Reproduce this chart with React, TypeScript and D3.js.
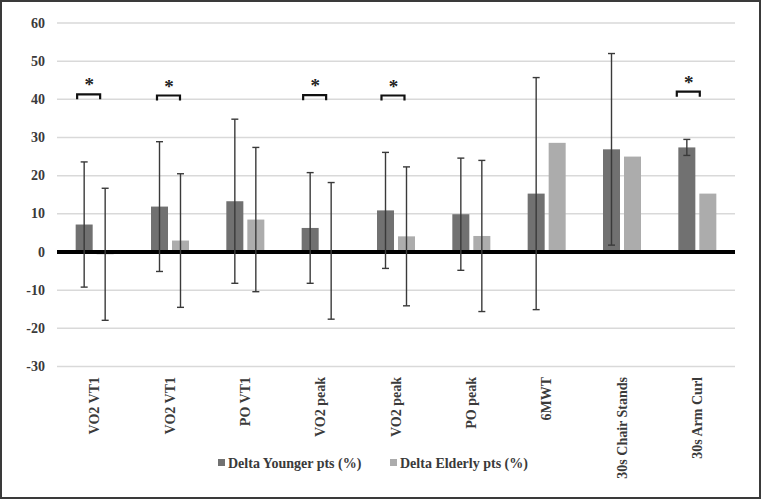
import React from "react";
import * as d3 from "d3";

const categories = ["VO2 VT1", "VO2 VT1", "PO VT1", "VO2 peak", "VO2 peak", "PO peak", "6MWT", "30s Chair Stands", "30s Arm Curl"];
const seriesNames = ["Delta Younger pts (%)", "Delta Elderly pts (%)"];
const younger = [7.2, 11.9, 13.3, 6.3, 10.9, 9.9, 15.3, 26.9, 27.4];
const youngerErr = [16.4, 17.0, 21.5, 14.5, 15.2, 14.7, 30.4, 25.1, 2.1];
const elderly = [-0.6, 3.0, 8.5, 0.3, 4.1, 4.2, 28.6, 25.0, 15.3];
const elderlyErr = [17.3, 17.5, 18.9, 17.9, 18.2, 19.8, 0, 0, 0];
const yTicks = [-30, -20, -10, 0, 10, 20, 30, 40, 50, 60];
// significance brackets: category index, level, offset within band
const sigCats = [0, 1, 3, 4, 8];
const sigLevels = [41.3, 41.0, 41.1, 41.0, 42.0];
const sigOffsets = [-0.08, -0.02, -0.08, -0.04, -0.12];

const colors = ["#717171", "#acacac"];
const W = 762, H = 500;

export default function App() {
  const y = d3.scaleLinear().domain([-30, 60]).range([366.5, 23]);
  const x0 = d3.scaleBand<number>().domain(d3.range(categories.length)).range([57, 735]).padding(0);
  const groupW = 38;
  const x1 = d3.scaleBand<number>().domain([0, 1]).range([0, groupW]).paddingInner(0.19).paddingOuter(0);
  const bw = x0.bandwidth();
  const font = "'Liberation Serif', 'Times New Roman', serif";
  const series = [
    { vals: younger, errs: youngerErr },
    { vals: elderly, errs: elderlyErr },
  ];
  return (
    <svg width={W} height={H} style={{ position: "absolute", left: 0, top: 0, background: "#fff" }} fontFamily={font}>
      <rect x={1} y={1} width={W - 3} height={H - 3} fill="#fff" stroke="#3a3a3a" strokeWidth={2} />
      {yTicks.filter((t) => t !== 0).map((t) => (
        <line key={"g" + t} x1={57} x2={735} y1={y(t)} y2={y(t)} stroke="#d9d9d9" strokeWidth={1.5} />
      ))}
      {yTicks.map((t) => (
        <text key={"t" + t} x={45} y={y(t)} textAnchor="end" dominantBaseline="central" fontSize={14} fontWeight="bold" fill="#3a3a3a">
          {t}
        </text>
      ))}
      {series.map((s, si) =>
        s.vals.map((v, i) => {
          const bx = x0(i)! + bw / 2 - groupW / 2 + x1(si)!;
          return (
            <rect key={`b${si}-${i}`} x={bx} width={x1.bandwidth()} y={Math.min(y(v), y(0))} height={Math.abs(y(v) - y(0))} fill={colors[si]} />
          );
        })
      )}
      <line x1={57} x2={735} y1={y(0)} y2={y(0)} stroke="#000" strokeWidth={4} />
      {series.map((s, si) =>
        s.vals.map((v, i) => {
          const e = s.errs[i];
          if (!e) return null;
          const cx = x0(i)! + bw / 2 - groupW / 2 + x1(si)! + x1.bandwidth() / 2;
          return (
            <g key={`e${si}-${i}`} stroke="#3a3a3a" strokeWidth={1.4}>
              <line x1={cx} x2={cx} y1={y(v + e)} y2={y(v - e)} />
              <line x1={cx - 3.5} x2={cx + 3.5} y1={y(v + e)} y2={y(v + e)} />
              <line x1={cx - 3.5} x2={cx + 3.5} y1={y(v - e)} y2={y(v - e)} />
            </g>
          );
        })
      )}
      {sigCats.map((c, k) => {
        const cx = x0(c)! + bw / 2 + sigOffsets[k] * bw;
        const top = y(sigLevels[k]);
        const half = 11.5;
        return (
          <g key={"s" + k}>
            <path d={`M${cx - half},${top + 5}V${top}H${cx + half}V${top + 5}`} fill="none" stroke="#111" strokeWidth={2.2} />
            <text x={cx + 0.5} y={top - 3} textAnchor="middle" fontSize={19} fontWeight="bold" fill="#222">*</text>
          </g>
        );
      })}
      {categories.map((c, i) => {
        const cx = x0(i)! + bw / 2;
        return (
          <text key={"c" + i} transform={`translate(${cx},377) rotate(-90)`} textAnchor="end" dominantBaseline="central" fontSize={14} fontWeight="bold" fill="#3a3a3a">
            {c}
          </text>
        );
      })}
      {seriesNames.map((n, i) => {
        const lx = i === 0 ? 218 : 390;
        return (
          <g key={"l" + i}>
            <rect x={lx} y={459} width={7} height={7} fill={colors[i]} />
            <text x={lx + 10} y={463} dominantBaseline="central" fontSize={14} fontWeight="bold" fill="#3a3a3a">{n}</text>
          </g>
        );
      })}
    </svg>
  );
}
